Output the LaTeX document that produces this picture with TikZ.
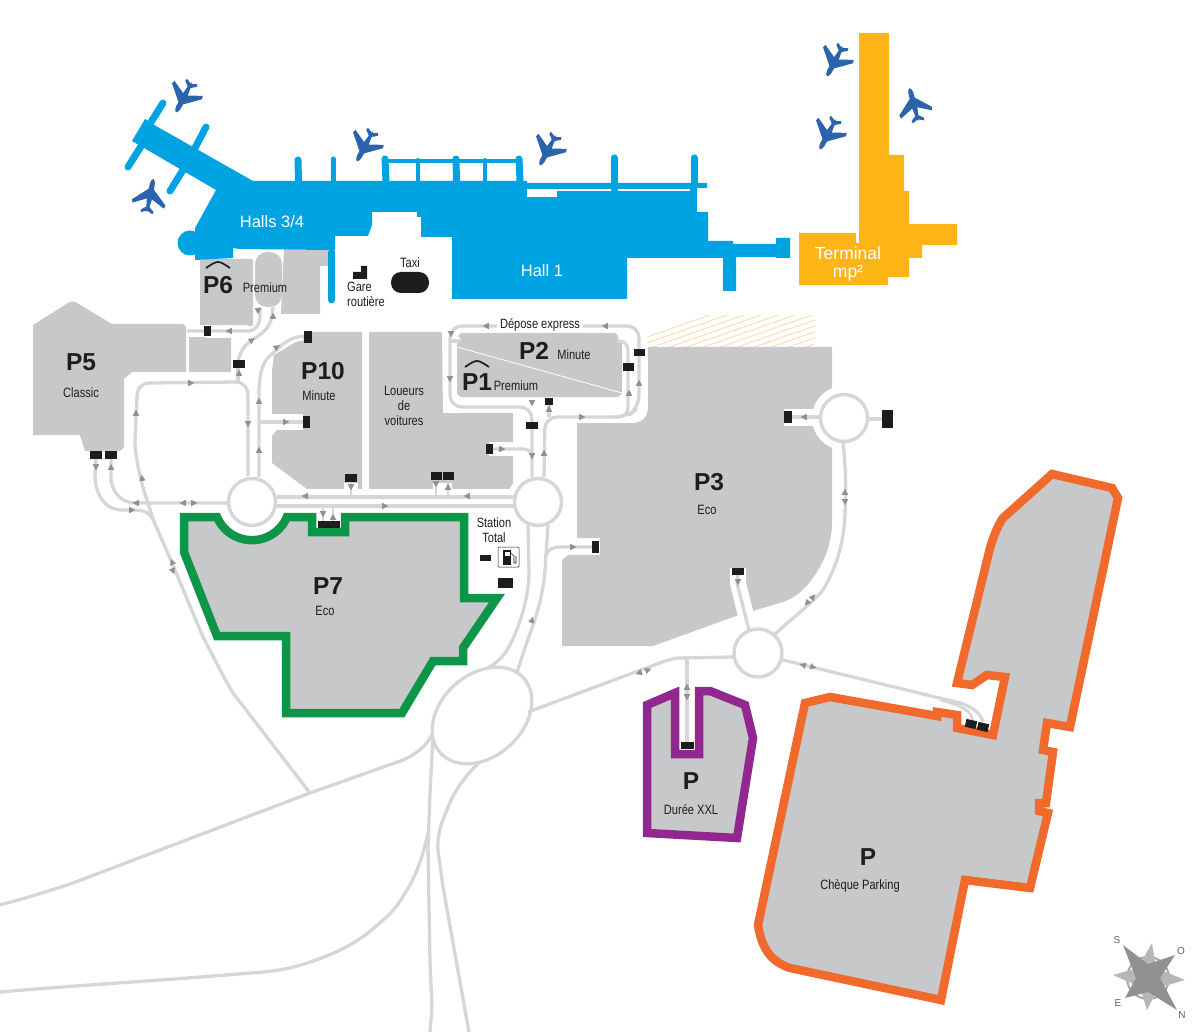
\documentclass[tikz,border=0pt]{standalone}
\usepackage{fontspec}
\setmainfont{Liberation Sans}
\newfontfamily\narrowf[FakeStretch=0.82]{Liberation Sans}
\definecolor{termblue}{HTML}{00A3E2}
\definecolor{termgold}{HTML}{FDB515}
\definecolor{pgreen}{HTML}{0E9648}
\definecolor{ppurple}{HTML}{92278F}
\definecolor{porange}{HTML}{F26A2B}
\definecolor{pgray}{HTML}{C7C8CA}
\definecolor{rgray}{HTML}{D5D6D6}
\definecolor{darkbox}{HTML}{1D1D1F}
\definecolor{planeblue}{HTML}{2B63AD}
\definecolor{arrgray}{HTML}{8F9092}
\definecolor{hatchc}{HTML}{FADFB8}
\tikzset{
  park/.style={fill=pgray,draw=none},
  road/.style={draw=rgray,line width=3.3pt,line cap=butt,line join=round},
  thinroad/.style={draw=rgray,line width=2.6pt,line cap=butt,line join=round},
  casing/.style={draw=white,line width=#1,line cap=butt,line join=round},
  rim/.style={draw=rgray,line width=3.4pt,fill=white},
  outline/.style={line width=8.5pt,line join=miter,miter limit=5,draw=#1,fill=pgray},
  lab/.style={font=\narrowf\fontsize{13.5}{15}\selectfont,text=darkbox,inner sep=0pt,align=center},
  big/.style={font=\bfseries\fontsize{24.5}{26}\selectfont,text=darkbox,inner sep=0pt},
  hall/.style={font=\fontsize{16.5}{18}\selectfont,text=white,inner sep=0pt,align=center},
  hat/.style={draw=darkbox,line width=1.7pt,line cap=butt,line join=round},
  pier/.style={draw=termblue,line cap=round,line width=#1},
  compasslab/.style={inner sep=0pt,font=\fontsize{10}{12}\selectfont,text=darkbox!70},
}
\newcommand{\bx}[4]{\fill[darkbox,shift={(#1,#2)}] ({-#3/2},{-#4/2}) rectangle ({#3/2},{#4/2});}
\newcommand{\arr}[3]{\fill[arrgray,shift={(#1,#2)},rotate=#3,x=1pt,y=1pt] (0,3.4)--(3.2,-2.8)--(-3.2,-2.8)--cycle;}
\newcommand{\plane}[3]{\fill[planeblue,shift={(#1,#2)},rotate=#3,x=1pt,y=1pt]
  (0,17.5) .. controls (1.5,16.5) and (2.4,14.5) .. (2.5,12.5) -- (2.6,7) -- (17,-6.5) -- (16,-9.8) -- (2.6,-3) -- (1.6,-11) -- (6.5,-15) -- (5.8,-17.5) -- (0.4,-15) -- (0,-17)
  -- (-0.4,-15) -- (-5.8,-17.5) -- (-6.5,-15) -- (-1.6,-11) -- (-2.6,-3) -- (-16,-9.8) -- (-17,-6.5) -- (-2.6,7) -- (-2.5,12.5) .. controls (-2.4,14.5) and (-1.5,16.5) .. (0,17.5) -- cycle;}
\begin{document}
\begin{tikzpicture}[x=1pt,y=-1pt]
\useasboundingbox (0,0) rectangle (1200,1032);
% ---------- hatch
\begin{scope}
\clip (647,316) rectangle (815,347);
\foreach \k in {0,...,17}{
  \draw[hatchc,line width=1.1pt] ({610+\k*17},350) -- ({610+\k*17+100},315);
}
\end{scope}
% ---------- grey parking blocks
\fill[park] (33,325) -- (68,303) .. controls (71,301) and (74,301) .. (77,303) -- (112,324) -- (183,324) -- (186,327) -- (186,372) -- (132,372) -- (124,379) -- (124,447) -- (120,451) -- (85,451) -- (80,435) -- (33,435) -- cycle;
\fill[park] (189,335) -- (203,335) -- (206,338) -- (231,338) -- (231,372) -- (189,372) -- cycle;
\fill[park,rounded corners=1.5pt] (200,259) rectangle (253,326);
\fill[park,rounded corners=12pt] (255,252) rectangle (282,307);
\fill[park] (284,250) -- (328,250) -- (328,266) -- (320,266) -- (320,314) -- (281,314) -- (282,290) -- cycle;
\fill[park] (312,332) -- (362,332) -- (362,489) -- (307,489) -- (272,463) -- (272,436) -- (277,430) -- (303,430) -- (303,414) -- (272,414) -- (272,370) -- (274,355) -- (299,340) -- cycle;
\fill[park] (369,332) -- (441,332) -- (442,334) -- (443,413) -- (513,413) -- (513,485) -- (509,489) -- (369,489) -- cycle;
\fill[park] (461,333) -- (615,333) -- (618,336) -- (618,340) -- (622,343) -- (622,394) -- (618,397) -- (461,397) -- (457,394) -- (457,343) -- (461,339) -- (458,336) -- cycle;
\draw[white,line width=0.8pt] (457,347) -- (622,393);
\fill[park] (648,347) -- (832,347) -- (832,525) .. controls (831,545) and (825,560) .. (815,575) .. controls (805,590) and (795,598) .. (783,602) -- (736,616) -- (653,646) -- (562,646) -- (562,560) -- (568,555) -- (600,555) -- (600,538) -- (577,538) -- (577,423) -- (632,423) .. controls (642,423) and (648,417) .. (648,407) -- cycle;
% ---------- white road casings over the blocks
\draw[casing=12pt] (187,331) -- (248,331);
\draw[casing=15pt] (260,422) -- (303,422);
\draw[casing=9pt] (265,355) .. controls (272,347) and (285,338) .. (303,336);
\draw[casing=16pt] (300,497) -- (515,497);
\draw[casing=19pt] (442,483) -- (442,490);
\draw[casing=14pt] (351,483) -- (351,490);
\draw[casing=14pt] (489,449) -- (523,449);
\draw[casing=16pt] (738,568) -- (738,583) -- (749,628);
\draw[casing=17pt] (784,417) -- (820,417);
\fill[white] (252,502) circle[radius=31];
\fill[white] (538,502) circle[radius=31];
\fill[white] (844,418) circle[radius=32];
\fill[white] (758,653) circle[radius=31];
% ---------- outlined car parks
\draw[outline=pgreen] (184,517) -- (217,517) arc[start angle=157,end angle=23,radius=38] -- (312,517) -- (312,532) -- (345,532) -- (345,517) -- (464,517) -- (464,598) -- (497,598) -- (463,648) -- (463,661) -- (433,661) -- (402,713) -- (286,713) -- (286,636) -- (217,636) -- (184,552) -- cycle;
\draw[outline=ppurple] (675,693) -- (647,705) -- (647,833) -- (737,838) -- (753,738) -- (745,705) -- (710,691) -- (699,691) -- (699,754) -- (675,754) -- cycle;
\draw[outline=porange] (1052,474) -- (1112,488) -- (1118,498) -- (1070,727) -- (1047,723) -- (1043,750) -- (1053,752) -- (1046,803) -- (1039,803) -- (1039,811) -- (1048,813) -- (1030,888) -- (965,880) -- (941,1000) -- (790,968) .. controls (772,962) and (762,950) .. (758,925) -- (805,703) -- (830,697) -- (937,716) -- (937,712) -- (957,715) -- (957,728) -- (993,735) -- (1005,677) -- (987,675) -- (972,685) -- (957,683) -- (990,548) .. controls (994,535) and (998,525) .. (1003,518) -- cycle;
% ---------- terminal buildings
\fill[termblue] (145,119) -- (156,126) -- (253,181) -- (527,181) -- (527,183) -- (707,183) -- (707,188) -- (697,188) -- (697,212) -- (708,212) -- (708,241) -- (733,241) -- (733,244) -- (776,244) -- (776,238) -- (790,238) -- (790,258) -- (776,258) -- (776,257) -- (736,257) -- (736,291) -- (723,291) -- (723,258) -- (627,258) -- (627,299) -- (452,299) -- (452,237) -- (421,237) -- (421,217) -- (417,217) -- (417,212) -- (372,212) -- (372,225) -- (368,236) -- (335,236) -- (335,250) -- (328,250) -- (240,249) -- (233,248) -- (233,258) -- (195,260) -- (195,228) -- (216,190) -- (132,141) -- cycle;
\fill[termblue] (190,243) circle[radius=12.5];
\fill[white] (527,189) rectangle (557,197);
\fill[white] (557,189.2) rectangle (690,191.4);
\draw[pier=7pt] (163,103) -- (148,127);
\draw[pier=7pt] (206,127) -- (195,148);
\draw[pier=7pt] (143,143) -- (128,167);
\draw[pier=7pt] (183,170) -- (170,191);
\draw[pier=7pt] (331.5,252) -- (331.5,300);
\draw[termblue,line width=4pt] (385,161) -- (520,161);
\draw[pier=7pt] (298,160) -- (298.5,181);
\draw[pier=5pt] (333,159) -- (333,181);
\draw[pier=7pt] (385,159) -- (386,181);
\draw[pier=4pt] (418,160) -- (418,181);
\draw[pier=7pt] (456,159) -- (456.5,181);
\draw[pier=4pt] (485,160) -- (485,181);
\draw[pier=7pt] (519,159) -- (520,181);
\draw[pier=7pt] (614,158) -- (614,189);
\draw[pier=7pt] (694,158) -- (694,186);
\fill[termblue] (610.5,186) rectangle (617.5,192);
\fill[termgold] (859,33) -- (889,33) -- (889,155) -- (904,155) -- (904,191) -- (909,191) -- (909,224) -- (957,224) -- (957,245) -- (922,245) -- (922,258) -- (909,258) -- (909,277) -- (888,277) -- (888,285) -- (799,285) -- (799,233) -- (856,233) -- (856,243) -- (859,243) -- cycle;
% planes
\plane{184}{97}{152}
\plane{150}{196}{-11}
\plane{365}{146}{152}
\plane{548}{150}{152}
\plane{835}{61}{152}
\plane{828}{134}{152}
\plane{914}{105}{15}
% ---------- roads: lower network
\draw[road] (0,905) .. controls (30,897) and (52,890) .. (73,883) -- (310,793) -- (403,760) .. controls (415,755) and (427,746) .. (433,733);
\draw[road] (152,517) -- (172,563) -- (203,637) .. controls (215,660) and (225,680) .. (233,693) -- (310,793);
\draw[road] (433,737) -- (430,793) -- (428,847) -- (430,963) -- (432,1007) -- (430,1032);
\draw[road] (428,833) .. controls (422,860) and (416,875) .. (407,890) .. controls (400,902) and (393,912) .. (383,920) .. controls (372,930) and (362,938) .. (350,945) .. controls (335,953) and (320,959) .. (307,963) .. controls (290,969) and (270,972) .. (250,973) .. controls (170,980) and (80,985) .. (0,992);
\draw[road] (480,762) .. controls (465,775) and (452,795) .. (447,810) .. controls (440,825) and (437,838) .. (438,850) -- (443,887) -- (469,1032);
\draw[road,rotate around={42:(482,715.5)}] (482,715.5) ellipse [x radius=56,y radius=41];
\draw[road] (528,712) -- (665,661) -- (677,658) -- (733,657);
\draw[road] (528,525) -- (529,575) .. controls (528,600) and (520,625) .. (510,645) .. controls (505,655) and (498,662) .. (488,668);
\draw[road] (548,525) -- (545,570) .. controls (543,600) and (533,625) .. (527,642) -- (517,672);
\draw[road] (545,557) .. controls (548,549) and (553,547) .. (560,547) -- (592,547);
\draw[road] (687,659) -- (687,745);
\draw[road] (783,660) -- (960,703) .. controls (972,707) and (980,712) .. (983,722);
\draw[thinroad] (940,700) .. controls (960,705) and (972,710) .. (973,722);
\draw[road] (843,442) .. controls (846,470) and (846,490) .. (845,513) .. controls (844,545) and (835,570) .. (823,590) .. controls (810,605) and (790,620) .. (775,634);
\draw[road] (749,630) -- (737,583) -- (738,575);
\draw[road] (788,417) -- (820,417);
\draw[road] (868,419) -- (882,419);
% ---------- roads: left network
\draw[road] (96,455) -- (95,477) .. controls (96,495) and (105,510) .. (122,510) -- (133,510) .. controls (142,510) and (150,512) .. (153,520);
\draw[road] (111,455) -- (111,480) .. controls (112,490) and (120,503) .. (135,503) -- (229,503);
\draw[road] (153,520) .. controls (150,508) and (145,495) .. (143,487) .. controls (137,465) and (135,450) .. (135,440) -- (137,397) .. controls (137,388) and (142,383) .. (150,383) -- (235,382) .. controls (244,382) and (248,388) .. (248,396) -- (248,476);
\draw[road] (238,382) -- (238,368);
\draw[road] (259,477) -- (259,390) .. controls (260,372) and (262,362) .. (272,354) .. controls (281,345) and (290,337) .. (304,336);
\draw[road] (260,422) -- (303,422);
\draw[road] (187,331) -- (248,331) .. controls (256,331) and (259,325) .. (260,318) -- (260,307);
\draw[road] (238,363) .. controls (239,352) and (245,345) .. (252,340) .. controls (262,334) and (270,328) .. (272,316) -- (273,307);
\draw[road] (277,497) -- (515,497);
\draw[road] (277,506) -- (514,506);
\draw[thinroad] (351,478) -- (351,497);
\draw[thinroad] (436,476) -- (436,497);
\draw[thinroad] (448,476) -- (448,497);
\draw[thinroad] (323,506) -- (323,523);
\draw[thinroad] (333,506) -- (333,523);
% ---------- roads: P1/P2 loop
\draw[road,rounded corners=12pt] (532,477) -- (532,407) -- (450,407) -- (450,326) -- (639,326) -- (639,407) -- (627,417) -- (545,417) -- (544,477);
\draw[road,rounded corners=9pt] (610,417) -- (628,417) -- (628,341) -- (617,341);
\draw[road] (451,341) -- (460,341);
\draw[road] (549,417) -- (549,402);
\draw[road] (493,449) -- (523,449) .. controls (528,449) and (531,452) .. (532,455);
% ---------- roundabouts
\draw[rim] (252,502) circle[radius=23.5];
\draw[rim] (538,502) circle[radius=23.5];
\draw[rim] (844,418) circle[radius=23.5];
\draw[rim] (758,653) circle[radius=24];
% ---------- arrows
\arr{136}{413}{0} \arr{142}{478}{8} \arr{191}{383}{-90} \arr{248}{424}{180} \arr{259}{401}{0} \arr{259}{450}{0}
\arr{286}{422}{-90} \arr{277}{347}{-55} \arr{252}{340}{-55} \arr{273}{316}{0} \arr{258}{311}{180} \arr{229}{331}{90}
\arr{239}{373}{0} \arr{96}{467}{180} \arr{111}{467}{0} \arr{132}{510}{-90} \arr{136}{503}{90} \arr{183}{503}{90}
\arr{194}{503}{-90} \arr{305}{496}{90} \arr{351}{487}{180} \arr{323}{514}{180} \arr{333}{517}{0}
\arr{172}{562}{22} \arr{173}{571}{202}
\arr{486}{326}{90} \arr{605}{326}{90} \arr{451}{334}{180} \arr{450}{379}{180} \arr{532}{403}{180} \arr{549}{409}{0}
\arr{582}{417}{-90} \arr{629}{393}{0} \arr{639}{383}{0} \arr{502}{449}{-90} \arr{532}{456}{180} \arr{544}{453}{0}
\arr{467}{496}{90} \arr{385}{506}{-90} \arr{436}{484}{180} \arr{448}{487}{0} \arr{573}{547}{-90} \arr{532}{620}{-15}
\arr{804}{417}{90} \arr{845}{492}{0} \arr{845}{502}{180} \arr{813}{597}{-40} \arr{807}{603}{140} \arr{738}{582}{180}
\arr{639}{673}{110} \arr{648}{670}{-70} \arr{803}{665}{75} \arr{813}{667}{-105} \arr{687}{687}{0} \arr{687}{697}{180}
% ---------- barrier boxes
\bx{96}{455}{12}{8} \bx{111}{455}{12}{8} \bx{207}{331}{7}{10} \bx{239}{364}{12}{8} \bx{308}{337}{8}{12}
\bx{306}{422}{7}{12} \bx{351}{478}{12}{8} \bx{436}{476}{11}{8} \bx{448}{476}{11}{8} \bx{323}{524}{11}{7} \bx{334}{524}{11}{7}
\bx{489}{449}{7}{10} \bx{532}{425}{12}{7} \bx{549}{401}{8}{7} \bx{628}{367}{11}{8} \bx{639}{353}{11}{7}
\bx{595}{547}{7}{12} \bx{788}{417}{8}{12} \bx{887}{419}{11}{18} \bx{738}{571}{12}{7} \bx{687}{745}{13}{7}
\bx{485}{558}{11}{6} \bx{505}{583}{15}{10}
\fill[darkbox,rotate around={-13:(971,724)}] (965.5,720) rectangle (976.5,728);
\fill[darkbox,rotate around={-13:(983,727)}] (977.5,723) rectangle (988.5,731);
\fill[darkbox] (353,272) -- (361,272) -- (361,266) -- (367,266) -- (367,279) -- (353,279) -- cycle;
\fill[darkbox,rounded corners=10pt] (391,272) rectangle (429,293);
% fuel pump
\draw[fill=white,draw=darkbox,line width=0.5pt,rounded corners=1pt] (498,547) rectangle (519,567);
\fill[darkbox] (503,550) rectangle (511,565);
\fill[white] (504.5,551.5) rectangle (509.5,556);
\draw[darkbox,line width=0.7pt] (511,553) -- (514,556) -- (514,563) -- (516,563) -- (516,556);
% ---------- texts
\node[hall] (halls) at (272,222) {Halls 3/4};
\node[hall] (hallone) at (542,271) {Hall 1};
\node[hall,font=\fontsize{17.5}{19}\selectfont] (terminal) at (848,263.5) {Terminal\\[-1pt]mp²};
\node[lab] (taxi) at (410,263) {Taxi};
\node[lab,align=left,anchor=north west] (gare) at (347,282) {Gare\\routière};
\node[big] (pone) at (477,382) {P1};
\node[big] (ptwo) at (534,351) {P2};
\node[big] (pthree) at (709,482) {P3};
\node[big] (pfive) at (81,362) {P5};
\node[big] (psix) at (218,285) {P6};
\node[big] (pseven) at (328,586) {P7};
\node[big] (pten) at (323,371) {P10};
\node[big] (pxxl) at (691,781) {P};
\node[big] (pcheque) at (868,857) {P};
\draw[hat] (206,268) .. controls (212,264) and (215,262) .. (218,262) .. controls (221,262) and (224,264) .. (230,268);
\draw[hat] (465,367) .. controls (471,363) and (474,361) .. (477,361) .. controls (480,361) and (483,363) .. (489,367);
\node[lab] (premsix) at (265,288) {Premium};
\node[lab] (classic) at (81,393) {Classic};
\node[lab] (minuteten) at (319,396) {Minute};
\node[lab] (loueurs) at (404,406) {Loueurs\\de\\voitures};
\node[lab] (minutetwo) at (574,355) {Minute};
\node[lab] (premone) at (516,386) {Premium};
\node[lab,fill=white,inner xsep=3pt,inner ysep=1pt] (depose) at (540,325) {Dépose express};
\node[lab] (ecothree) at (707,510) {Eco};
\node[lab] (ecoseven) at (325,611) {Eco};
\node[lab] (station) at (494,530.5) {Station\\Total};
\node[lab] (duree) at (691,810) {Durée XXL};
\node[lab] (cheque) at (860,886) {Chèque Parking};
% ---------- compass
\draw[arrgray!80,line width=2pt] (1148,978) circle[radius=21];
\fill[arrgray!65] (1152,943) -- (1156,968) -- (1185,980) -- (1158,988) -- (1147,1010) -- (1140,987) -- (1113,975) -- (1138,968) -- cycle;
\fill[arrgray] (1123,945) -- (1148,964) -- (1175,955) -- (1160,978) -- (1177,1010) -- (1148,992) -- (1125,998) -- (1136,978) -- cycle;
\node[compasslab] (south) at (1117,940) {S};
\node[compasslab] (west) at (1181,951) {O};
\node[compasslab] (east) at (1118,1003) {E};
\node[compasslab] (north) at (1182,1015) {N};
\end{tikzpicture}
\end{document}
